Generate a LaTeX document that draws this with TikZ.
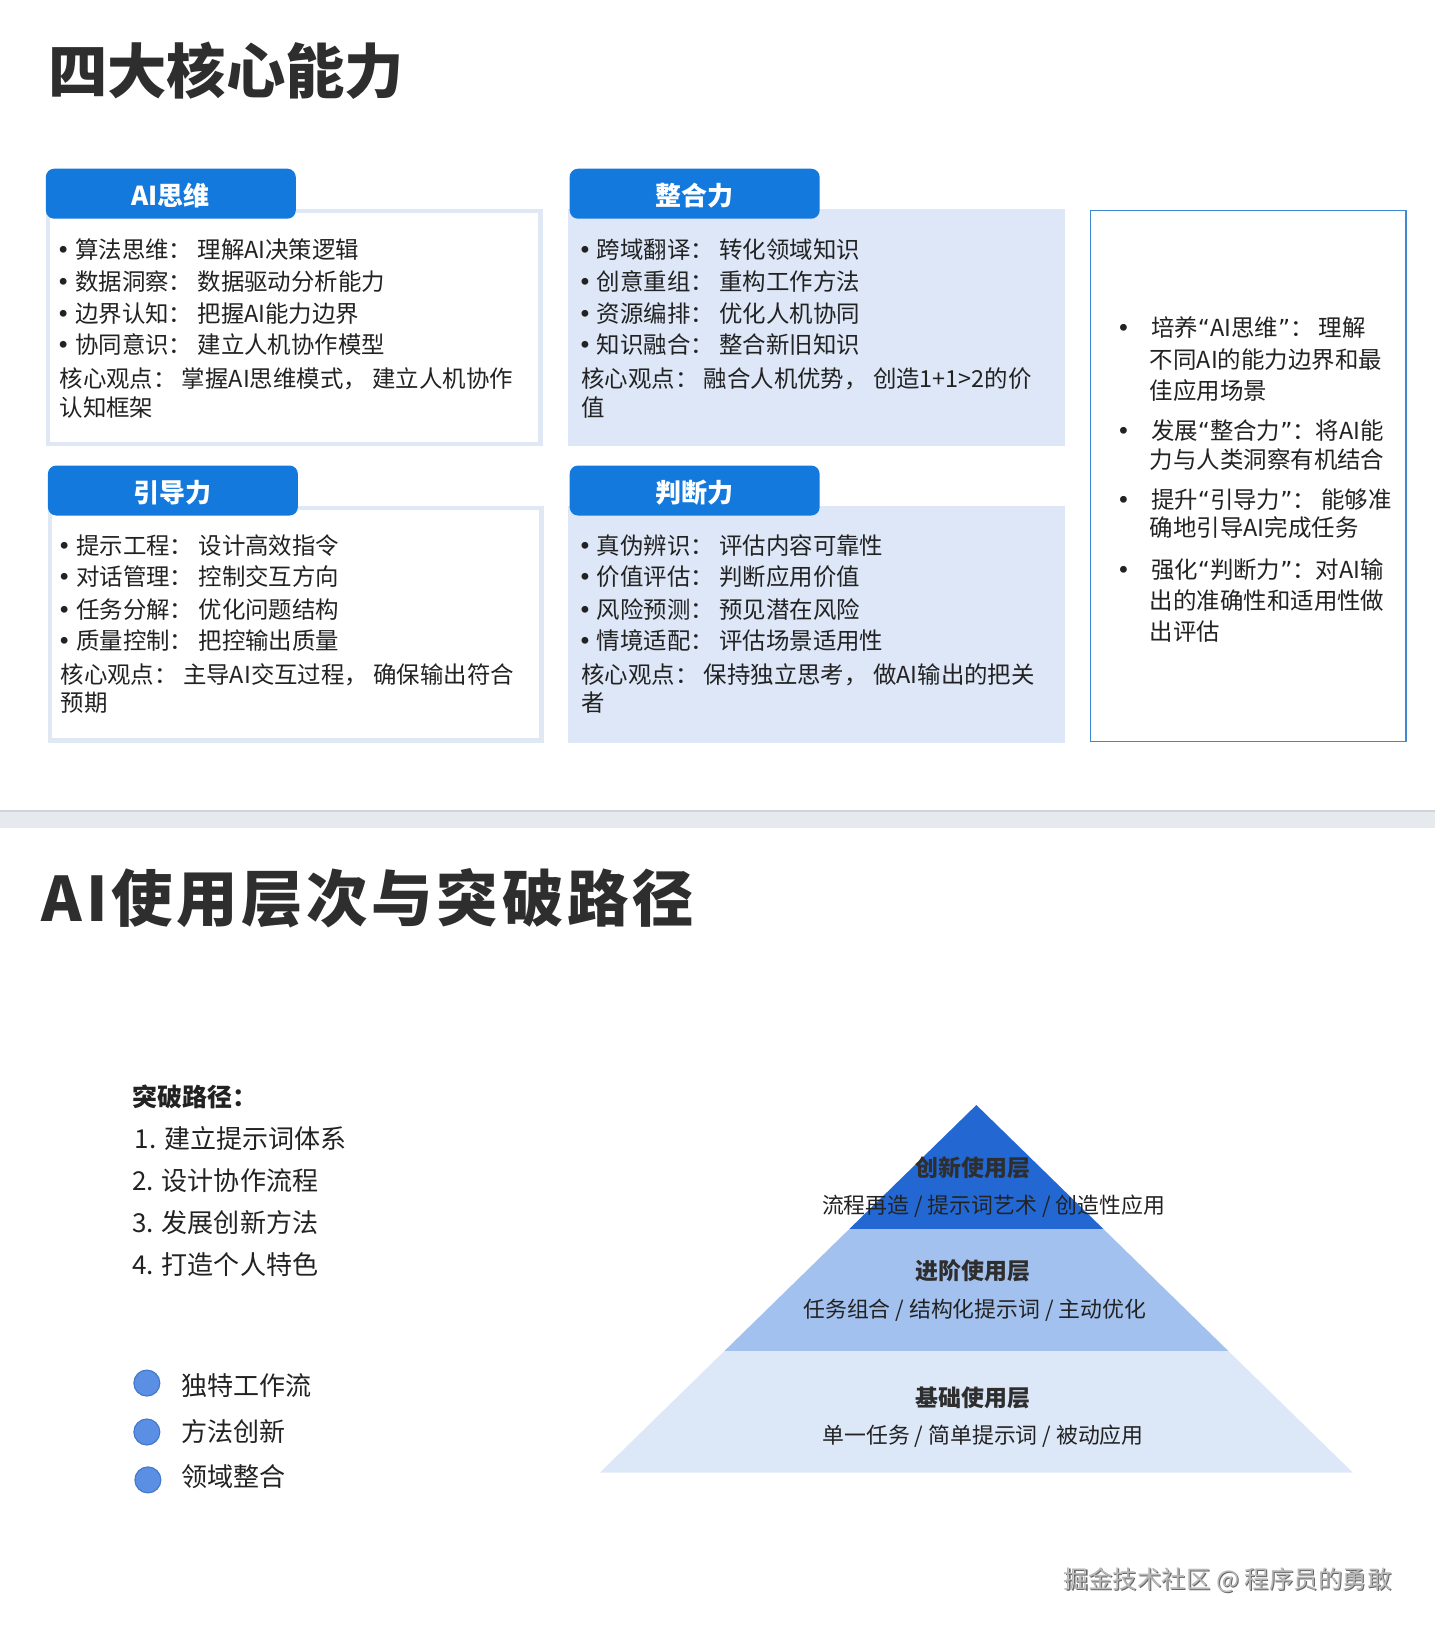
\documentclass[tikz,border=0pt]{standalone}
\usepackage{fontspec}
\setmainfont{Noto Sans CJK SC}
\newfontfamily\dejavu{DejaVu Sans}
\definecolor{ink}{HTML}{222222}
\definecolor{ttl}{HTML}{2E2E2E}
\definecolor{tabblue}{HTML}{1479DC}
\definecolor{cardfill}{HTML}{DDE7F7}
\definecolor{cardline}{HTML}{E1E8F5}
\definecolor{boxline}{HTML}{3F88D2}
\definecolor{sepfill}{HTML}{E6E9EE}
\definecolor{sepline}{HTML}{D0D4DA}
\definecolor{pyrtop}{HTML}{2368D2}
\definecolor{pyrmid}{HTML}{A3C1EE}
\definecolor{pyrbot}{HTML}{DCE7F8}
\definecolor{dotfill}{HTML}{5B8FE3}
\definecolor{dotline}{HTML}{3F75CF}
\newcommand\bul{\makebox[15pt][l]{\kern-3pt{\dejavu •}}}
\newcommand\rbul{\makebox[30pt][l]{\kern-3pt{\dejavu •}}}
\newcommand\myLq{{\dejavu “}}
\newcommand\myRq{{\dejavu ”}}
\tikzset{
  lbl/.style={inner sep=0pt, text=ink},
  body/.style={lbl, anchor=west, font=\fontsize{22.5}{27}\selectfont, text height=19.8pt, text depth=2.7pt},
  big/.style={lbl, anchor=west, font=\fontsize{25}{30}\selectfont, text height=22pt, text depth=3pt},
  tabbox/.style={fill=tabblue, rounded corners=8pt, minimum width=240pt, minimum height=48pt, inner sep=0pt, text=white, font=\fontsize{25}{30}\selectfont\bfseries, text height=26pt, text depth=3pt},
  whitecard/.style={draw=cardline, line width=4pt, fill=white},
  bluecard/.style={fill=cardfill},
  pyrlbl/.style={lbl, text=ttl, font=\fontsize{22}{26}\selectfont\bfseries, text height=19.4pt, text depth=2.6pt},
  pyrsub/.style={lbl, font=\fontsize{21}{25}\selectfont, text height=18.5pt, text depth=2.5pt},
  dot/.style={circle, fill=dotfill, draw=dotline, line width=1pt, minimum size=25pt, inner sep=0pt},
}
\begin{document}
\begin{tikzpicture}[x=1pt,y=-1pt]
\useasboundingbox[fill=white] (0,0) rectangle (1378,1568);

% ---------- top title
\node[lbl, anchor=west, text=ttl, font=\fontsize{57}{62}\selectfont\bfseries, text height=50pt, text depth=7pt] (title1) at (46,68) {四大核心能力};

% ---------- cards
\node[whitecard, minimum width=473pt, minimum height=223pt, inner sep=0pt] (card1) at (282.5,314.5) {};
\node[bluecard, minimum width=478pt, minimum height=227pt, inner sep=0pt] (card2) at (784,314.5) {};
\node[whitecard, minimum width=472pt, minimum height=223pt, inner sep=0pt] (card3) at (284,599.5) {};
\node[bluecard, minimum width=478pt, minimum height=227pt, inner sep=0pt] (card4) at (784,599.5) {};

\node[tabbox] (tab1) at (164,186) {AI思维};
\node[tabbox] (tab2) at (667,186) {整合力};
\node[tabbox] (tab3) at (166,471) {引导力};
\node[tabbox] (tab4) at (667,471) {判断力};

% card 1
\node[body] (a1) at (57,240) {\bul 算法思维： 理解AI决策逻辑};
\node[body] (a2) at (57,270) {\bul 数据洞察： 数据驱动分析能力};
\node[body] (a3) at (57,301) {\bul 边界认知： 把握AI能力边界};
\node[body] (a4) at (57,331) {\bul 协同意识： 建立人机协作模型};
\node[body] (a5) at (57,364) {核心观点： 掌握AI思维模式， 建立人机协作};
\node[body] (a6) at (57,391) {认知框架};
% card 2
\node[body] (b1) at (558,240) {\bul 跨域翻译： 转化领域知识};
\node[body] (b2) at (558,270) {\bul 创意重组： 重构工作方法};
\node[body] (b3) at (558,301) {\bul 资源编排： 优化人机协同};
\node[body] (b4) at (558,331) {\bul 知识融合： 整合新旧知识};
\node[body] (b5) at (558,364) {核心观点： 融合人机优势， 创造1+1>2的价};
\node[body] (b6) at (558,391) {值};
% card 3
\node[body] (c1) at (58,524) {\bul 提示工程： 设计高效指令};
\node[body] (c2) at (58,554) {\bul 对话管理： 控制交互方向};
\node[body] (c3) at (58,585) {\bul 任务分解： 优化问题结构};
\node[body] (c4) at (58,615) {\bul 质量控制： 把控输出质量};
\node[body] (c5) at (58,648) {核心观点： 主导AI交互过程， 确保输出符合};
\node[body] (c6) at (58,675) {预期};
% card 4
\node[body] (d1) at (558,524) {\bul 真伪辨识： 评估内容可靠性};
\node[body] (d2) at (558,554) {\bul 价值评估： 判断应用价值};
\node[body] (d3) at (558,585) {\bul 风险预测： 预见潜在风险};
\node[body] (d4) at (558,615) {\bul 情境适配： 评估场景适用性};
\node[body] (d5) at (558,648) {核心观点： 保持独立思考， 做AI输出的把关};
\node[body] (d6) at (558,675) {者};

% ---------- right box
\node[draw=boxline, line width=1.3pt, fill=white, minimum width=303pt, minimum height=510pt, inner sep=0pt] (rbox) at (1198.5,457) {};
\node[body] (r1) at (1075,315) {\rbul 培养\myLq AI思维\myRq： 理解};
\node[body] (r2) at (1104,345) {不同AI的能力边界和最};
\node[body] (r3) at (1104,375) {佳应用场景};
\node[body] (r4) at (1075,413) {\rbul 发展\myLq 整合力\myRq：将AI能};
\node[body] (r5) at (1104,441) {力与人类洞察有机结合};
\node[body] (r6) at (1075,480) {\rbul 提升\myLq 引导力\myRq： 能够准};
\node[body] (r7) at (1104,507) {确地引导AI完成任务};
\node[body] (r8) at (1075,547) {\rbul 强化\myLq 判断力\myRq：对AI输};
\node[body] (r9) at (1104,577) {出的准确性和适用性做};
\node[body] (r10) at (1104,606) {出评估};

% ---------- separator
\fill[sepfill] (0,778) rectangle (1378,795);
\draw[sepline, line width=1.2pt] (0,778.6) -- (1378,778.6);

% ---------- bottom title
\node[lbl, anchor=west, text=ttl, font=\fontsize{59}{64}\selectfont\bfseries\addfontfeature{LetterSpace=6}, text height=52pt, text depth=7pt] (title2) at (40,862) {AI使用层次与突破路径};

% ---------- breakthrough path
\node[lbl, anchor=west, font=\fontsize{24}{28}\selectfont\bfseries, text height=21pt, text depth=3pt] (bp) at (127,1053) {突破路径：};
\node[big] (p1) at (129,1093) {1. 建立提示词体系};
\node[big] (p2) at (127,1134) {2. 设计协作流程};
\node[big] (p3) at (127,1174) {3. 发展创新方法};
\node[big] (p4) at (127,1214) {4. 打造个人特色};

% ---------- legend
\node[dot] (g1) at (141,1328) {};
\node[dot] (g2) at (141,1375) {};
\node[dot] (g3) at (142,1421) {};
\node[big] (gl1) at (174,1330) {独特工作流};
\node[big] (gl2) at (174,1375) {方法创新};
\node[big] (gl3) at (174,1418) {领域整合};

% ---------- pyramid
\coordinate (apex) at (937.5,1061);
\coordinate (tl) at (815.6,1180);
\coordinate (tr) at (1059.4,1180);
\coordinate (ml) at (695.8,1297);
\coordinate (mr) at (1179.2,1297);
\coordinate (bl) at (576,1414);
\coordinate (br) at (1299,1414);
\fill[pyrbot] (ml) -- (mr) -- (br) -- (bl) -- cycle;
\fill[pyrmid] (tl) -- (tr) -- (mr) -- (ml) -- cycle;
\fill[pyrtop] (apex) -- (tr) -- (tl) -- cycle;

\node[pyrlbl] (L3) at (934,1121) {创新使用层};
\node[pyrsub] (S3) at (954,1157) {流程再造 / 提示词艺术 / 创造性应用};
\node[pyrlbl] (L2) at (934,1220) {进阶使用层};
\node[pyrsub] (S2) at (936,1257) {任务组合 / 结构化提示词 / 主动优化};
\node[pyrlbl] (L1) at (934,1342) {基础使用层};
\node[pyrsub] (S1) at (944,1378) {单一任务 / 简单提示词 / 被动应用};

% ---------- watermark
\node[lbl, text=black!60, font=\fontsize{23.5}{28}\selectfont] (wms) at (1180,1518) {掘金技术社区 @ 程序员的勇敢};
\node[lbl, text=black!28, font=\fontsize{23.5}{28}\selectfont] (wm) at (1179,1517) {掘金技术社区 @ 程序员的勇敢};
\end{tikzpicture}
\end{document}
